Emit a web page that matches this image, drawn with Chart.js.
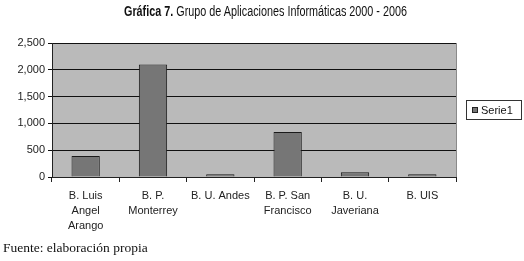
<!DOCTYPE html>
<html>
<head>
<meta charset="utf-8">
<script src="https://cdn.jsdelivr.net/npm/chart.js@4/dist/chart.umd.min.js"></script>
<style>
  html, body { margin: 0; padding: 0; background: #fff; }
  #wrap { position: relative; width: 524px; height: 261px; overflow: hidden; }
  #c { position: absolute; left: 0; top: 0; }
  #title { position: absolute; left: 124px; top: 3px; transform-origin: 0 0;
    font-family: "Liberation Sans", Arial, sans-serif;
    font-size: 14px; color: #111; white-space: nowrap; }
  #title b { font-weight: bold; }
  #foot { position: absolute; left: 3px; top: 240px; font-family: "Liberation Serif", "DejaVu Serif", serif;
    font-size: 13.5px; color: #111; white-space: nowrap; }
</style>
</head>
<body>
<div id="wrap">
  <canvas id="c" width="524" height="261"></canvas>
  <div id="title"><b>Gráfica 7.</b> Grupo de Aplicaciones Informáticas 2000 - 2006</div>
  <div id="foot">Fuente: elaboración propia</div>
</div>
<script>
const categories = [
  ["B. Luis", "Angel", "Arango"],
  ["B. P.", "Monterrey"],
  ["B. U. Andes"],
  ["B. P. San", "Francisco"],
  ["B. U.", "Javeriana"],
  ["B. UIS"]
];
const seriesName = "Serie1";
const serie1 = [390, 2100, 50, 840, 90, 50];
const yTicks = [0, 500, 1000, 1500, 2000, 2500];

// fit the condensed-looking title to the reference width
(function () {
  const t = document.getElementById('title');
  const w = t.getBoundingClientRect().width;
  t.style.transform = 'scaleX(' + (283 / w) + ')';
})();

const plotBg = {
  id: 'plotBg',
  beforeDraw(chart) {
    const { ctx, chartArea: a } = chart;
    ctx.save();
    ctx.fillStyle = '#bababa';
    ctx.fillRect(a.left, a.top, a.right - a.left, a.bottom - a.top);
    ctx.strokeStyle = '#8a8a8a';
    ctx.lineWidth = 1;
    ctx.beginPath();
    ctx.moveTo(a.right + 0.5, a.top);
    ctx.lineTo(a.right + 0.5, a.bottom);
    ctx.stroke();
    ctx.restore();
  }
};

const boxLegend = {
  id: 'boxLegend',
  afterDraw(chart) {
    const { ctx } = chart;
    const ds = chart.data.datasets[0];
    const x = 466, y = 100, w = 55, h = 19;
    ctx.save();
    ctx.fillStyle = '#fff';
    ctx.fillRect(x, y, w, h);
    ctx.strokeStyle = '#333';
    ctx.lineWidth = 1;
    ctx.strokeRect(x + 0.5, y + 0.5, w, h);
    ctx.fillStyle = ds.backgroundColor;
    ctx.fillRect(x + 6, y + 7, 6, 6);
    ctx.strokeStyle = '#222';
    ctx.strokeRect(x + 6.5, y + 7.5, 5, 5);
    ctx.fillStyle = '#111';
    ctx.font = '11px "Liberation Sans", Arial, sans-serif';
    ctx.textBaseline = 'middle';
    ctx.fillText(ds.label, x + 15, y + 10.5);
    ctx.restore();
  }
};

new Chart(document.getElementById('c'), {
  type: 'bar',
  data: {
    labels: categories,
    datasets: [{
      label: seriesName,
      data: serie1,
      backgroundColor: '#767676',
      borderColor: '#1a1a1a',
      borderWidth: 1,
      barPercentage: 1,
      categoryPercentage: 0.42
    }]
  },
  options: {
    responsive: false,
    animation: false,
    devicePixelRatio: 1,
    layout: { padding: { left: 0, right: 68, top: 43, bottom: 0 } },
    plugins: { legend: { display: false }, title: { display: false }, tooltip: { enabled: false } },
    scales: {
      x: {
        afterFit(s) { s.height = 84; },
        grid: { display: true, drawOnChartArea: false, drawTicks: true, tickLength: 5, color: '#222', offset: true },
        border: { display: true, color: '#222', width: 1 },
        ticks: {
          color: '#222', padding: 6, maxRotation: 0, autoSkip: false,
          font: { family: '"Liberation Sans", Arial, sans-serif', size: 11, lineHeight: 1.38 }
        }
      },
      y: {
        min: 0, max: 2500,
        afterFit(s) { s.width = 52; },
        afterBuildTicks(s) { s.ticks = yTicks.map(v => ({ value: v })); },
        grid: { color: '#111', lineWidth: 1, drawTicks: true, tickLength: 4 },
        border: { display: true, color: '#222', width: 1 },
        ticks: {
          color: '#222', padding: 3,
          font: { family: '"Liberation Sans", Arial, sans-serif', size: 11 },
          callback: v => v.toLocaleString('en-US')
        }
      }
    }
  },
  plugins: [plotBg, boxLegend]
});
</script>
</body>
</html>
